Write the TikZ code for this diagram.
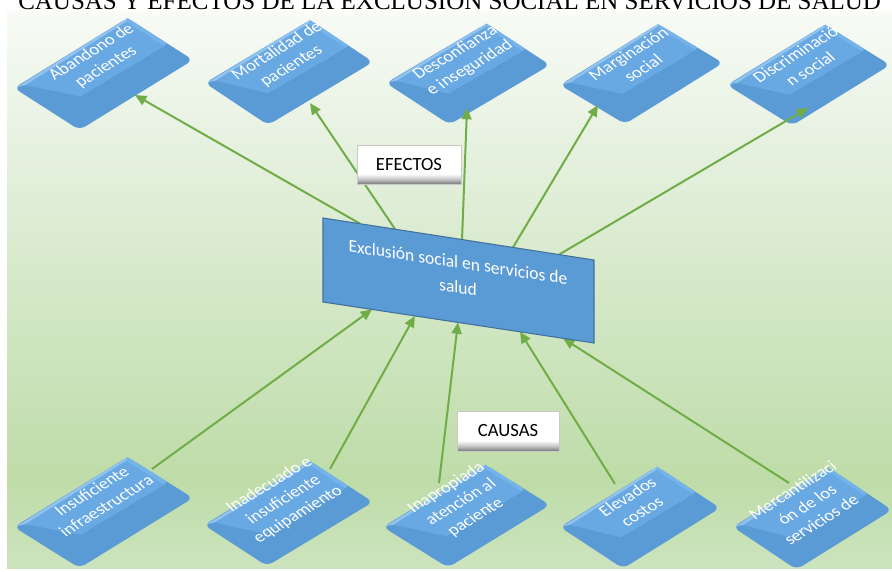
\documentclass[tikz,border=0pt]{standalone}
\usepackage{fontspec}
\setmainfont{Carlito}
\newfontfamily\titlefont{Liberation Serif}
\usetikzlibrary{arrows.meta,calc}

\definecolor{bgA}{RGB}{248,251,246}
\definecolor{bgB}{RGB}{230,241,224}
\definecolor{bgD}{RGB}{190,220,168}
\definecolor{bgE}{RGB}{204,228,190}
\pgfdeclareverticalshading{bgshade}{100bp}{color(0bp)=(bgE); color(25bp)=(bgE); color(33bp)=(bgD); color(63bp)=(bgB); color(75bp)=(bgA); color(100bp)=(bgA)}
\definecolor{lblC}{RGB}{120,120,120}
\definecolor{lblB}{RGB}{195,195,195}
\pgfdeclareverticalshading{lblshade}{100bp}{color(0bp)=(lblC); color(25bp)=(lblC); color(31bp)=(lblB); color(38bp)=(white); color(100bp)=(white)}
\definecolor{slabfrontc}{RGB}{91,155,213}
\definecolor{slabtopc}{RGB}{104,168,227}
\definecolor{slabhic}{RGB}{146,195,238}
\definecolor{slabendc}{RGB}{118,179,234}
\definecolor{arrowgreen}{RGB}{112,173,71}
\definecolor{coreedge}{RGB}{65,113,156}

\tikzset{
  slabfront/.style={fill=slabfrontc},
  slabtop/.style={fill=slabtopc},
  slabhi/.style={fill=slabhic},
  slabend/.style={fill=slabendc},
  slabtext/.style={text=white, align=center, inner sep=0pt,
    font=\fontsize{13}{15.5}\selectfont},
  conn/.style={draw=arrowgreen, line width=1.5pt,
    -{Triangle[length=8.5pt,width=7.5pt]}},
  lblbox/.style={shading=lblshade, draw={rgb,255:red,200;green,200;blue,200},
    line width=0.4pt, text=black, font=\fontsize{14}{16}\selectfont},
}

\newcommand\slabcoord[3]{%
  \pgfmathsetmacro\slx{\sLx+(#2)*\sux+(#3)*\svx}%
  \pgfmathsetmacro\sly{\sLy+(#2)*\suy+(#3)*\svy}%
  \coordinate (#1) at (\slx,\sly);}

\newcommand\slabbox[8]{%
  \def\sLx{#2}\def\sLy{#3}\def\sux{#4}\def\suy{#5}\def\svx{#6}\def\svy{#7}%
  \pgfmathsetmacro\ulen{veclen(#4,#5)}%
  \pgfmathsetmacro\vlen{veclen(#6,#7)}%
  \pgfmathsetmacro\cma{(#4)/\ulen}%
  \pgfmathsetmacro\cmb{-(#5)/\ulen}%
  \pgfmathsetmacro\upx{-\cmb-(#6)/\vlen}%
  \pgfmathsetmacro\upy{\cma+(#7)/\vlen}%
  \pgfmathsetmacro\uplen{veclen(\upx,\upy)}%
  \pgfmathsetmacro\cmc{\upx/\uplen}%
  \pgfmathsetmacro\cmd{\upy/\uplen}%
  \slabcoord{#1-L}{0}{0}\slabcoord{#1-T}{1}{0}%
  \slabcoord{#1-R}{1}{1}\slabcoord{#1-B}{0}{1}%
  \slabcoord{#1-h0}{0.02}{0.01}%
  \slabcoord{#1-f1}{0.07}{0.05}\slabcoord{#1-f2}{0.965}{0.035}%
  \slabcoord{#1-f3}{0.965}{0.62}\slabcoord{#1-f4}{0.24}{0.6}%
  \slabcoord{#1-r1}{1}{0.6}\slabcoord{#1-c}{0.58}{0.29}%
  \fill[slabfront, rounded corners=5pt] (#1-L) -- (#1-T) -- (#1-R) -- (#1-B) -- cycle;
  \fill[slabend] (#1-T) -- (#1-r1) -- (#1-f3) -- (#1-f2) -- cycle;
  \fill[slabtop] (#1-f1) -- (#1-f2) -- (#1-f3) -- (#1-f4) -- cycle;
  \fill[slabhi] (#1-h0) -- (#1-T) -- (#1-f2) -- (#1-f1) -- cycle;
  \node[slabtext, cm={\cma,\cmb,\cmc,\cmd,(0,0)}] (#1) at (#1-c) {#8};
}

\begin{document}
\begin{tikzpicture}[x=0.75pt,y=-0.75pt]
\useasboundingbox (0,0) rectangle (892,571);
\begin{scope}
\clip (0,0) rectangle (892,571);

% background panel
\shade[shading=bgshade] (7,11) rectangle (892,568);

% title (cut off at the top)
\node[font=\titlefont\fontsize{18.75}{20}\selectfont, anchor=base west, inner sep=0pt]
  (title) at (18,9.5) {CAUSAS Y EFECTOS DE LA EXCLUSIÓN SOCIAL EN SERVICIOS DE SALUD};

% central box corners
\coordinate (cTL) at (323,218);
\coordinate (cTR) at (594,260);
\coordinate (cBR) at (594,343);
\coordinate (cBL) at (323,302);

% bottom arrow coordinates
\coordinate (b1) at (152,469);
\coordinate (b2) at (330,469);
\coordinate (b3) at (439,483);
\coordinate (b4) at (615,484);
\coordinate (b5) at (789,483);
\coordinate (t1) at ($(cBL)!0.181!(cBR)$);
\coordinate (t2) at ($(cBL)!0.339!(cBR)$);
\coordinate (t3) at ($(cBL)!0.498!(cBR)$);
\coordinate (t4) at ($(cBL)!0.727!(cBR)$);
\coordinate (t5) at ($(cBL)!0.886!(cBR)$);

\draw[conn] (b1) -- (t1);
\draw[conn] (b2) -- (t2);
\draw[conn] (b3) -- (t3);
\draw[conn] (b4) -- (t4);
\draw[conn] (b5) -- (t5);

% top slabs (effects)
\slabbox{ef1}{14}{88}{113.5}{-70}{65.5}{42}{Abandono de\\pacientes}
\slabbox{ef2}{205}{83}{105}{-63}{63}{42}{Mortalidad de\\pacientes}
\slabbox{ef3}{386}{83}{100.5}{-59.5}{63.5}{41.5}{Desconfianza\\e inseguridad}
\slabbox{ef4}{560}{85}{98}{-61}{65}{39}{Marginación\\social}
\slabbox{ef5}{727}{85}{98}{-60.5}{65}{40.5}{Discriminació\\n social}

% bottom slabs (causes)
\slabbox{ca1}{14}{527}{113.5}{-70}{65.5}{41}{Insuficiente\\infraestructura}
\slabbox{ca2}{204}{525}{106}{-64}{63}{41}{Inadecuado e\\insuficiente\\equipamiento}
\slabbox{ca3}{383}{527}{102}{-62.5}{65}{40.5}{Inapropiada\\atención al\\paciente}
\slabbox{ca4}{560}{527}{97}{-60.5}{63}{41.5}{Elevados\\costos}
\slabbox{ca5}{733}{527}{95.5}{-59.5}{63.5}{42.5}{Mercantilizaci\\ón de los\\servicios de}

% top arrows
\coordinate (s1) at ($(cTL)!0.137!(cTR)$);
\coordinate (s2) at ($(cTL)!0.266!(cTR)$);
\coordinate (s3) at ($(cTL)!0.513!(cTR)$);
\coordinate (s4) at ($(cTL)!0.701!(cTR)$);
\coordinate (s5) at ($(cTL)!0.871!(cTR)$);
\coordinate (e1) at (135,95);
\coordinate (e2) at (310,103);
\coordinate (e3) at (467,108);
\coordinate (e4) at (598,105);
\coordinate (e5) at (808,108);
\draw[conn] (s1) -- (e1);
\draw[conn] (s2) -- (e2);
\draw[conn] (s3) -- (e3);
\draw[conn] (s4) -- (e4);
\draw[conn] (s5) -- (e5);

% central box
\filldraw[fill=slabfrontc, draw=coreedge, line width=0.8pt]
  (cTL) -- (cTR) -- (cBR) -- (cBL) -- cycle;
\node[text=white, align=center, inner sep=0pt,
  font=\fontsize{13.3}{18.75}\selectfont, cm={0.989,-0.148,0,1,(0,0)}]
  (core) at (458,274.5) {Exclusión social en servicios de\\salud};

% labels
\node[lblbox, minimum width=78pt, minimum height=29.25pt] (efectos) at (409,164.5) {EFECTOS};
\node[lblbox, minimum width=76.5pt, minimum height=30pt] (causas) at (508,431) {CAUSAS};
\end{scope}
\end{tikzpicture}
\end{document}
